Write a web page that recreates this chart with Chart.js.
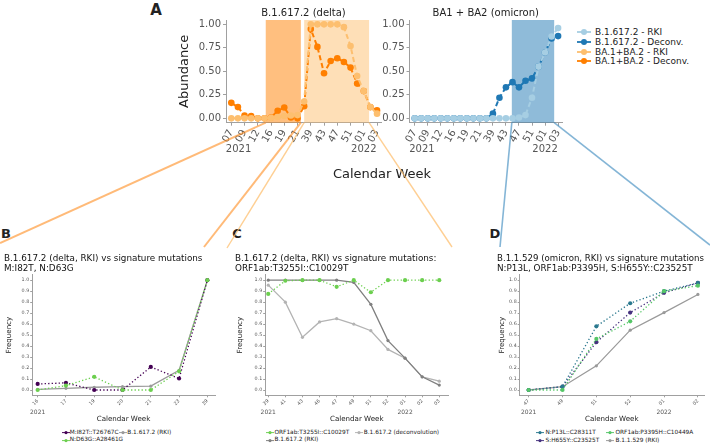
<!DOCTYPE html>
<html>
<head>
<meta charset="utf-8">
<title>Variant abundance and signature mutations</title>
<script src="https://cdn.jsdelivr.net/npm/chart.js@4.4.1/dist/chart.umd.min.js"></script>
<style>
  body { margin: 0; background: #fff; }
  #fig { position: relative; width: 710px; height: 447px; overflow: hidden; font-family: "DejaVu Sans", sans-serif; color: #222; }
  #fig canvas { position: absolute; }
  .txt { position: absolute; white-space: nowrap; line-height: 1; }
  .txt svg { display: block; }
  .mid { transform: translate(-50%, -50%); }
  .letter { font-weight: bold; }
  #links { position: absolute; left: 0; top: 0; z-index: 2; }
</style>
</head>
<body>
<div id="fig">
  <canvas id="deltaA"></canvas>
  <canvas id="omiA"></canvas>
  <canvas id="panelB"></canvas>
  <canvas id="panelC"></canvas>
  <canvas id="panelD"></canvas>
  <svg id="links" width="710" height="447"></svg>
  <div class="txt mid letter" style="left:156px;top:10px;font-size:15px">A</div>
  <div class="txt mid letter" style="left:6px;top:233px;font-size:13px">B</div>
  <div class="txt mid letter" style="left:237px;top:233px;font-size:13px">C</div>
  <div class="txt mid letter" style="left:495px;top:233px;font-size:13px">D</div>
  <div class="txt mid" style="left:382px;top:173px;font-size:13px">Calendar Week</div>
</div>
<script>
// ---- panel A: weekly abundance (index = position on the week axis)
const weeksA = ['07', '08', '09', '10', '12', '14', '16', '17', '19', '20', '21', '23',
                '39', '41', '43', '46', '47', '49', '51', '52', '01', '02', '03'];
const weeksATicks = [0, 2, 4, 6, 8, 10, 12, 14, 16, 18, 20, 22];
const deltaRki = [0, 0, 0, 0, 0, 0, 0.005, 0.015, 0.025, 0.03, 0.035, 0.18,
                  1.0, 1.0, 1.0, 1.0, 1.0, 0.97, 0.77, 0.45, 0.29, 0.12, 0.05];
const deltaDeconv = [0.165, 0.12, 0.03, 0.025, 0, 0, 0.01, 0.08, 0.115, 0.01, 0, 0.13,
                     0.95, 0.76, 0.48, 0.61, 0.64, 0.6, 0.54, 0.37, 0.29, 0.12, 0.085];
const omiRki = [0, 0, 0, 0, 0, 0, 0, 0, 0, 0, 0, 0,
                0, 0, 0, 0, 0.01, 0.035, 0.22, 0.55, 0.7, 0.87, 0.96];
const omiDeconv = [0, 0, 0, 0, 0, 0, 0, 0, 0, 0, 0, 0,
                   0.05, 0.22, 0.33, 0.385, 0.33, 0.4, 0.425, 0.55, 0.7, 0.85, 0.875];
const deltaWindows = [[5.2, 10.5], [11.0, 20.8]];
const omiWindows = [[14.9, 21.4]];
const abundanceTicks = [0, 0.25, 0.5, 0.75, 1];

// ---- panel B
const weeksB = ['16', '17', '19', '20', '21', '23', '39'];
const bM = [0.055, 0.065, 0, 0, 0.21, 0.105, 1.0];
const bN = [0, 0.04, 0.12, 0, 0, 0.17, 1.0];
const bRki = [0.005, 0.015, 0.025, 0.03, 0.035, 0.18, 1.0];

// ---- panel C
const weeksC = ['39', '41', '43', '46', '47', '49', '51', '52', '01', '02', '03'];
const cOrf = [0.875, 0.995, 1.0, 1.0, 0.94, 1.0, 0.89, 1.0, 1.0, 1.0, 1.0];
const cRki = [1.0, 1.0, 1.0, 1.0, 1.0, 0.98, 0.78, 0.45, 0.29, 0.12, 0.045];
const cDeconv = [0.955, 0.8, 0.48, 0.62, 0.65, 0.6, 0.54, 0.37, 0.29, 0.12, 0.08];

// ---- panel D
const weeksD = ['47', '49', '51', '52', '01', '02'];
const dN = [0, 0.03, 0.58, 0.79, 0.9, 0.975];
const dS = [0, 0.03, 0.435, 0.705, 0.885, 0.975];
const dOrf = [0, 0, 0.465, 0.625, 0.9, 0.95];
const dRki = [0, 0.03, 0.22, 0.545, 0.705, 0.87];

const freqTicks = [0, 0.1, 0.2, 0.3, 0.4, 0.5, 0.6, 0.7, 0.8, 0.9, 1.0];

Chart.defaults.font.family = '"DejaVu Sans", sans-serif';
const AXIS = '#a0a0a0';

const pts = vals => vals.map((v, i) => ({ x: i, y: v }));

function series(label, vals, color, style) {
  return Object.assign({
    label, data: pts(vals), borderColor: color, backgroundColor: color,
    pointBackgroundColor: color, pointBorderWidth: 0
  }, style);
}
const dashedA = { borderWidth: 2, borderDash: [5, 3], pointRadius: 3.3 };
const dotted = { borderWidth: 1.3, borderDash: [1.3, 2.2], pointRadius: 2.1 };
const solid = { borderWidth: 1.3, pointRadius: 1.6 };

// shaded week windows and the year labels under the week axis
const extras = {
  id: 'extras',
  beforeDatasetsDraw(chart, args, opts) {
    const { ctx, chartArea: a, scales: { x } } = chart;
    (opts.spans || []).forEach(([from, to], i) => {
      const x0 = x.getPixelForValue(from), x1 = x.getPixelForValue(to);
      ctx.save();
      ctx.fillStyle = opts.spanColors[i];
      ctx.fillRect(x0, a.top, x1 - x0, a.bottom - a.top);
      ctx.restore();
    });
  },
  afterDraw(chart, args, opts) {
    const { ctx, scales: { x } } = chart;
    ctx.save();
    ctx.font = opts.yearFont;
    ctx.fillStyle = '#555';
    ctx.textAlign = 'center';
    ctx.textBaseline = 'middle';
    (opts.years || []).forEach(([text, at]) => ctx.fillText(text, x.getPixelForValue(at), opts.yearY));
    ctx.restore();
  }
};

function panel(id, box, plot, o) {
  const cv = document.getElementById(id);
  cv.width = box.w;
  cv.height = box.h;
  cv.style.left = box.left + 'px';
  cv.style.top = box.top + 'px';
  const yWidth = plot.l - box.left - o.padLeft;
  const xHeight = box.top + box.h - plot.b;
  const chart = new Chart(cv, {
    type: 'line',
    data: { datasets: o.datasets },
    options: {
      responsive: false,
      animation: false,
      layout: { padding: { left: o.padLeft, right: box.left + box.w - plot.r, top: 0, bottom: 0 } },
      plugins: {
        legend: { display: false },
        tooltip: { enabled: false },
        title: o.title,
        extras: { spans: o.spans, spanColors: o.spanColors, years: o.years, yearFont: o.yearFont, yearY: o.yearY - box.top }
      },
      scales: {
        x: {
          type: 'linear', min: o.xMin, max: o.xMax,
          afterFit: s => { s.height = xHeight; s.paddingLeft = 0; s.paddingRight = 0; },
          afterBuildTicks: s => { s.ticks = o.xTicks.map(v => ({ value: v })); },
          ticks: { callback: v => o.xLabels[v], autoSkip: false, minRotation: o.rot, maxRotation: o.rot,
                   font: { size: o.tickSize }, color: '#555', padding: o.tickPad },
          grid: { drawOnChartArea: false, tickLength: o.tickLen, color: AXIS },
          border: { color: AXIS },
          title: { display: !!o.xTitle, text: o.xTitle, font: { size: o.axTitleSize }, color: '#222', padding: 0 }
        },
        y: {
          min: o.yMin, max: o.yMax,
          afterFit: s => { s.width = yWidth; s.paddingTop = 0; s.paddingBottom = 0; },
          afterBuildTicks: s => { s.ticks = o.yTicks.map(v => ({ value: v })); },
          ticks: { callback: v => v.toFixed(o.yDec), font: { size: o.tickSize }, color: '#555', padding: o.tickPad },
          grid: { drawOnChartArea: false, tickLength: o.tickLen, color: AXIS },
          border: { color: AXIS },
          title: { display: !!o.yTitle, text: o.yTitle, font: { size: o.axTitleSize }, color: '#222', padding: { top: 0.5, bottom: 0 } }
        }
      }
    },
    plugins: [extras]
  });
  chart.box = box;
  return chart;
}

// ---- datasets
const dsDeltaRki = series('BA.1+BA.2 - RKI', deltaRki, '#fdbf6f', dashedA);
const dsDeltaDec = series('BA.1+BA.2 - Deconv.', deltaDeconv, '#ff7f00', dashedA);
const dsOmiRki = series('B.1.617.2 - RKI', omiRki, '#a6cee3', dashedA);
const dsOmiDec = series('B.1.617.2 - Deconv.', omiDeconv, '#1f78b4', dashedA);

const dsBM = series('M:I82T::T26767C', bM, '#440154', dotted);
const dsBN = series('N:D63G::A28461G', bN, '#6ccf4f', dotted);
const dsBRki = series('B.1.617.2 (RKI)', bRki, '#9a9a9a', solid);

const dsCOrf = series('ORF1ab:T3255I::C10029T', cOrf, '#6ccf4f', dotted);
const dsCRki = series('B.1.617.2 (RKI)', cRki, '#808080', solid);
const dsCDec = series('B.1.617.2 (deconvolution)', cDeconv, '#b3b3b3', solid);

const dsDN = series('N:P13L::C28311T', dN, '#2a788e', dotted);
const dsDS = series('S:H655Y::C23525T', dS, '#46327e', dotted);
const dsDOrf = series('ORF1ab:P3395H::C10449A', dOrf, '#55c667', dotted);
const dsDRki = series('B.1.1.529 (RKI)', dRki, '#9a9a9a', solid);

// ---- panel A charts
const aCommon = {
  xLabels: weeksA, xTicks: weeksATicks, xMin: -0.8, xMax: 22.6, rot: 60,
  tickSize: 10, tickPad: 2, tickLen: 3, axTitleSize: 13,
  yMin: -0.046, yMax: 1.046, yTicks: abundanceTicks, yDec: 2,
  yearFont: '10px "DejaVu Sans", sans-serif', yearY: 149
};
const titleA = text => ({ display: true, text, fullSize: false, color: '#222',
  font: { size: 10, weight: 'normal', lineHeight: 1.2 }, padding: { top: 7, bottom: 1 } });

const chartDelta = panel('deltaA', { left: 176, top: 0, w: 210, h: 160 }, { l: 226, r: 381, b: 122.7 },
  Object.assign({}, aCommon, {
    padLeft: 0, yTitle: 'Abundance', title: titleA('B.1.617.2 (delta)'),
    datasets: [dsDeltaRki, dsDeltaDec],
    spans: deltaWindows, spanColors: ['rgba(255,127,0,0.5)', 'rgba(253,191,111,0.5)'],
    years: [['2021', 1.1], ['2022', 20]]
  }));
const chartOmi = panel('omiA', { left: 372, top: 0, w: 195, h: 160 }, { l: 409.5, r: 562, b: 122.7 },
  Object.assign({}, aCommon, {
    padLeft: 0, title: titleA('BA1 + BA2 (omicron)'),
    datasets: [dsOmiRki, dsOmiDec],
    spans: omiWindows, spanColors: ['rgba(31,120,180,0.5)'],
    years: [['2021', 1.1], ['2022', 20]]
  }));

// ---- lower panels
const lowCommon = {
  rot: 45, tickSize: 4.8, tickPad: 1, tickLen: 1.8, axTitleSize: 7.1,
  yMin: -0.05, yMax: 1.05, yTicks: freqTicks, yDec: 1,
  yTitle: 'Frequency', xTitle: 'Calendar Week',
  yearFont: '6px "DejaVu Sans", sans-serif', yearY: 412.3
};
const titleLow = lines => ({ display: true, text: lines, align: 'start', color: '#111',
  font: { size: 8.8, weight: 'normal', lineHeight: 10 / 8.8 }, padding: { top: 5.35, bottom: 1.35 } });

panel('panelB', { left: 0, top: 248, w: 220, h: 175 }, { l: 32, r: 215, b: 395.5 },
  Object.assign({}, lowCommon, {
    padLeft: 4, xLabels: weeksB, xTicks: weeksB.map((w, i) => i), xMin: -0.2, xMax: 6.27,
    title: titleLow(['B.1.617.2 (delta, RKI) vs signature mutations', 'M:I82T, N:D63G']),
    datasets: [dsBN, dsBM, dsBRki], years: [['2021', 0]]
  }));
panel('panelC', { left: 232, top: 248, w: 222, h: 175 }, { l: 265, r: 448.5, b: 395.5 },
  Object.assign({}, lowCommon, {
    padLeft: 3, xLabels: weeksC, xTicks: weeksC.map((w, i) => i), xMin: -0.19, xMax: 10.54,
    title: titleLow(['B.1.617.2 (delta, RKI) vs signature mutations:', 'ORF1ab:T3255I::C10029T']),
    datasets: [dsCOrf, dsCRki, dsCDec], years: [['2021', 0], ['2022', 8]]
  }));
panel('panelD', { left: 470, top: 248, w: 240, h: 175 }, { l: 519.5, r: 704, b: 395.5 },
  Object.assign({}, lowCommon, {
    padLeft: 27, xLabels: weeksD, xTicks: weeksD.map((w, i) => i), xMin: -0.27, xMax: 5.18,
    title: titleLow(['B.1.1.529 (omicron, RKI) vs signature mutations', 'N:P13L, ORF1ab:P3395H, S:H655Y::C23525T']),
    datasets: [dsDOrf, dsDN, dsDS, dsDRki], years: [['2021', 0], ['2022', 4]]
  }));

// ---- legends (HTML, built from the datasets)
const fig = document.getElementById('fig');
function addLegend(entries, size, r, mw, gap) {
  entries.forEach(([ds, mx, y]) => {
    const m = document.createElement('div');
    m.className = 'txt';
    m.style.left = (mx - mw / 2) + 'px';
    m.style.top = (y - r - 1) + 'px';
    m.innerHTML = `<svg width="${mw}" height="${2 * r + 2}"><line x1="0" x2="${mw}" y1="${r + 1}" y2="${r + 1}" ` +
      `stroke="${ds.borderColor}" stroke-width="${r * 0.6}"/><circle cx="${mw / 2}" cy="${r + 1}" r="${r}" fill="${ds.borderColor}"/></svg>`;
    fig.appendChild(m);
    const t = document.createElement('div');
    t.className = 'txt';
    t.style.cssText = `left:${mx + gap}px;top:${y}px;font-size:${size}px;transform:translateY(-50%);color:#222`;
    t.textContent = ds.label;
    fig.appendChild(t);
  });
}
addLegend([[dsOmiRki, 584, 32.3], [dsOmiDec, 584, 42], [dsDeltaRki, 584, 51.7], [dsDeltaDec, 584, 61.3]], 9, 3, 14, 11);
addLegend([[dsBM, 65.7, 432.7], [dsBN, 65.7, 440.2], [dsBRki, 123.3, 432.7]], 5.8, 1.6, 8, 4);
addLegend([[dsCOrf, 270, 432.7], [dsCRki, 270, 440.2], [dsCDec, 359.3, 432.7]], 5.8, 1.6, 8, 4.5);
addLegend([[dsDN, 540, 432.7], [dsDS, 540, 441], [dsDOrf, 610, 432.7], [dsDRki, 610, 441]], 5.8, 1.6, 8, 5.5);

// ---- zoom lines from the shaded windows in A down to panels B, C, D
const links = document.getElementById('links');
function zoomLines(chart, win, targets, color, width) {
  const x = chart.scales.x, a = chart.chartArea, b = chart.box;
  win.forEach((edge, i) => {
    const ln = document.createElementNS('http://www.w3.org/2000/svg', 'line');
    ln.setAttribute('x1', b.left + x.getPixelForValue(edge));
    ln.setAttribute('y1', b.top + a.bottom);
    ln.setAttribute('x2', targets[i][0]);
    ln.setAttribute('y2', targets[i][1]);
    ln.setAttribute('stroke', color);
    ln.setAttribute('stroke-width', width);
    links.appendChild(ln);
  });
}
zoomLines(chartDelta, deltaWindows[0], [[0, 243], [204, 247]], 'rgba(255,140,30,0.6)', 2);
zoomLines(chartDelta, deltaWindows[1], [[227, 248], [452, 247]], 'rgba(253,191,111,0.75)', 1.4);
zoomLines(chartOmi, omiWindows[0], [[500, 247], [710, 245]], 'rgba(31,120,180,0.55)', 1.6);
</script>
</body>
</html>
